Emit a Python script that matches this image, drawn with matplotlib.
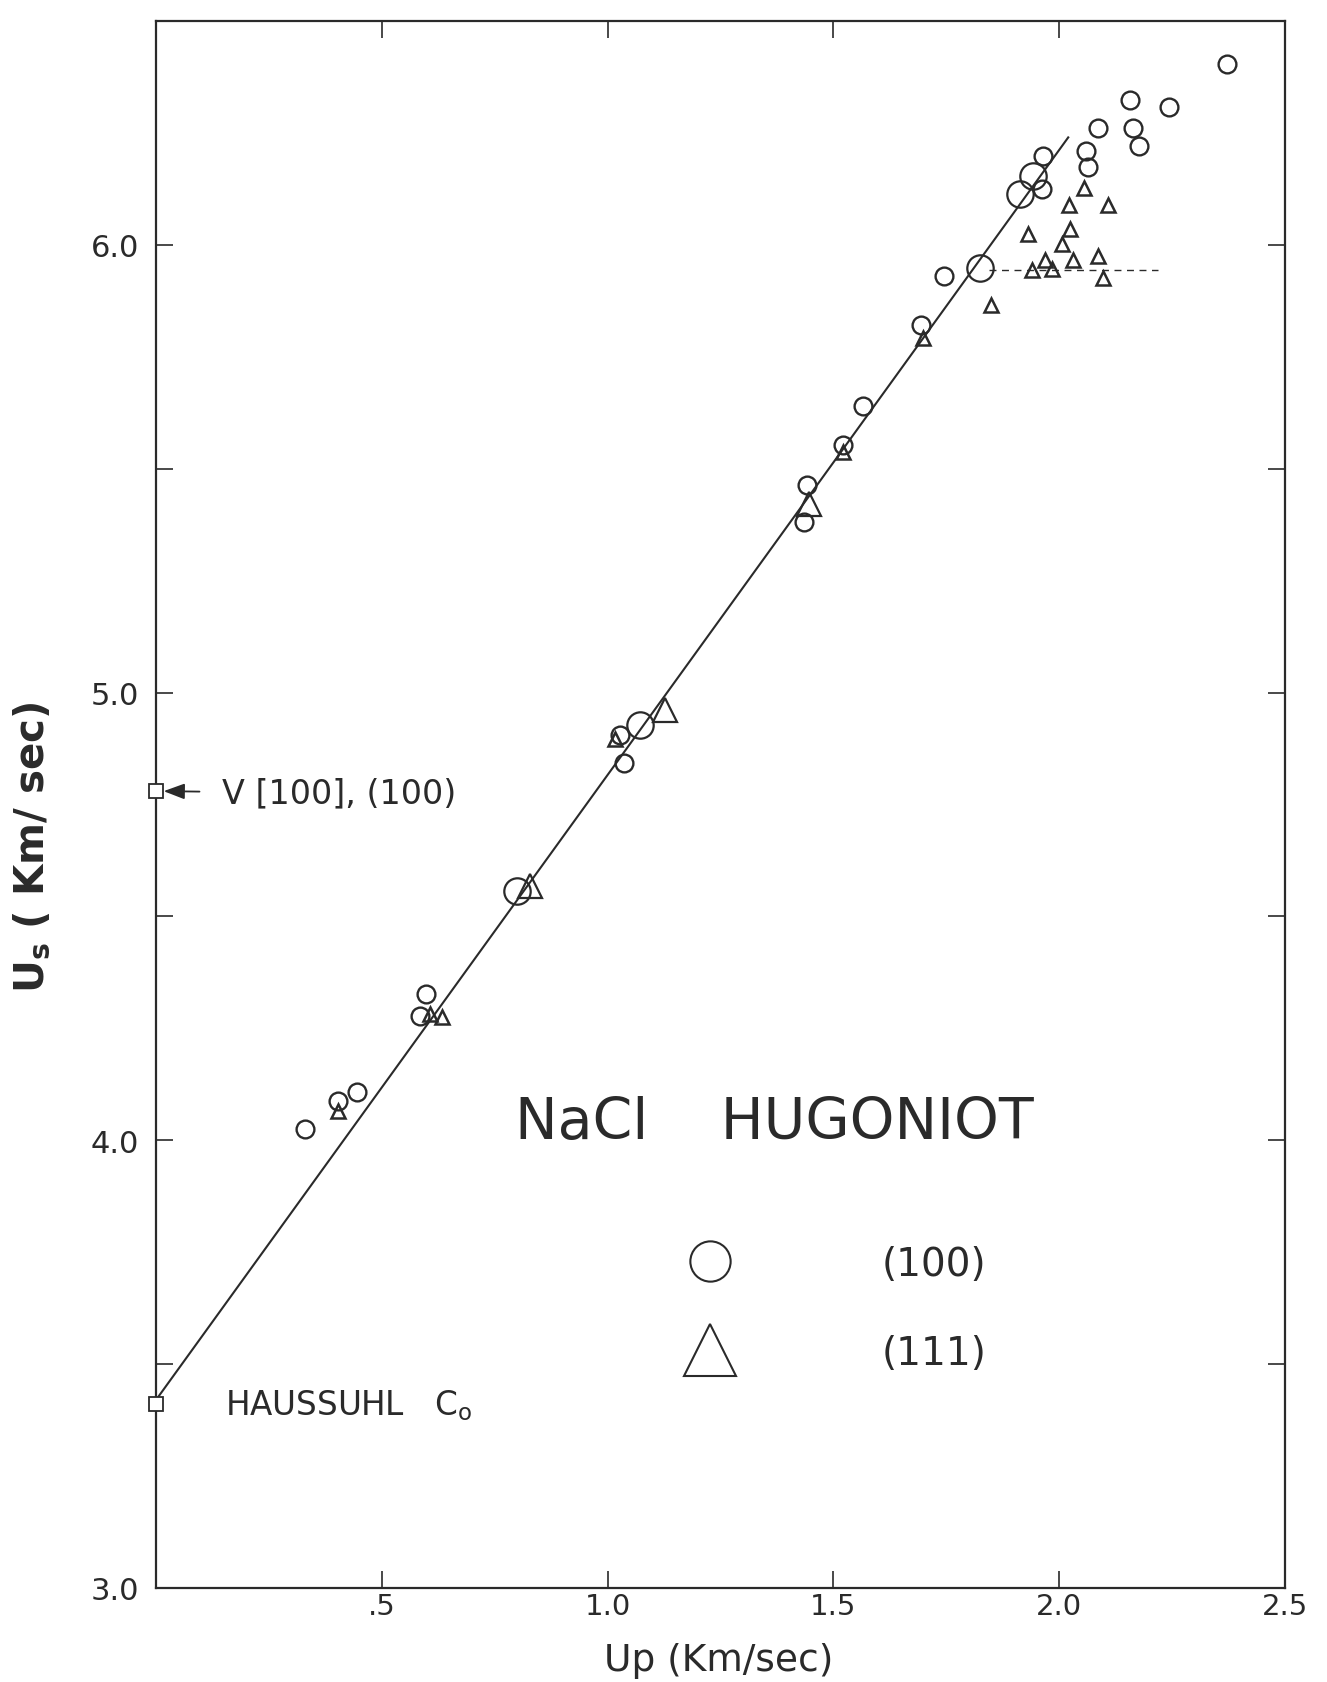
import numpy as np
import matplotlib.pyplot as plt
from matplotlib.lines import Line2D

INK = '#2a2a2a'
FONT = 'DejaVu Sans'

# (100) shots, small symbols
CIRC_UP = [0.331, 0.404, 0.444, 0.584, 0.598, 1.028, 1.036, 1.436, 1.441, 1.521,
           1.566, 1.694, 1.745, 1.963, 1.965, 2.059, 2.064, 2.085, 2.157, 2.163,
           2.177, 2.244, 2.372]
CIRC_US = [4.026, 4.088, 4.107, 4.277, 4.326, 4.905, 4.842, 5.382, 5.464, 5.554,
           5.641, 5.820, 5.930, 6.124, 6.198, 6.209, 6.174, 6.261, 6.323, 6.260,
           6.220, 6.308, 6.405]
# (100) shots, large symbols
BIG_CIRC_UP = [0.799, 1.072, 1.825, 1.913, 1.943]
BIG_CIRC_US = [4.557, 4.927, 5.948, 6.114, 6.153]

# (111) shots, small symbols
TRI_UP = [0.404, 0.607, 0.634, 1.017, 1.521, 1.699, 1.850, 1.931, 1.940, 1.969,
          1.985, 2.006, 2.021, 2.023, 2.030, 2.055, 2.087, 2.096, 2.108]
TRI_US = [4.065, 4.281, 4.276, 4.897, 5.537, 5.792, 5.865, 6.024, 5.943, 5.967,
          5.945, 6.002, 6.090, 6.035, 5.967, 6.126, 5.976, 5.926, 6.088]
# (111) shots, large symbols
BIG_TRI_UP = [0.828, 1.126, 1.447]
BIG_TRI_US = [4.567, 4.962, 5.421]

# linear Us-Up fit, starting at the Haussuhl sound speed
FIT_UP = [0.0, 2.02]
FIT_US = [3.42, 6.24]
# dashed level of the (111) points
DASH_UP = [1.845, 2.218]
DASH_US = [5.943, 5.943]

C0_HAUSSUHL = 3.41
V_100 = 4.78

X_TICKS = [0.0, 0.5, 1.0, 1.5, 2.0, 2.5]
X_LABELS = ['', '.5', '1.0', '1.5', '2.0', '2.5']
Y_TICKS = [3.0, 3.5, 4.0, 4.5, 5.0, 5.5, 6.0, 6.5]
Y_LABELS = ['3.0', '', '4.0', '', '5.0', '', '6.0', '']


def main():
    fig = plt.figure(figsize=(13.27, 16.83), dpi=100)
    ax = fig.add_axes([156 / 1327, 1 - 1589 / 1683, 1129 / 1327, 1567 / 1683])
    ax.set_xlim(0, 2.5)
    ax.set_ylim(3.0, 6.5)

    ax.plot(FIT_UP, FIT_US, color=INK, lw=1.5, zorder=2)
    ax.plot(DASH_UP, DASH_US, color=INK, lw=1.0, ls=(0, (5, 4)), zorder=2)

    ax.plot(CIRC_UP, CIRC_US, ls='none', marker='o', ms=12.8, mfc='none',
            mec=INK, mew=1.7, zorder=3)
    ax.plot(BIG_CIRC_UP, BIG_CIRC_US, ls='none', marker='o', ms=19, mfc='none',
            mec=INK, mew=1.6, zorder=3)
    ax.plot(TRI_UP, TRI_US, ls='none', marker='^', ms=9.5, mfc='none',
            mec=INK, mew=1.8, zorder=3)
    ax.plot(BIG_TRI_UP, BIG_TRI_US, ls='none', marker='^', ms=17, mfc='none',
            mec=INK, mew=1.6, zorder=3)

    # sound speeds on the Us axis
    ax.plot([0, 0], [C0_HAUSSUHL, V_100], ls='none', marker='s', ms=10.5,
            mfc='white', mec=INK, mew=1.3, clip_on=False, zorder=4)

    ax.annotate('V [100], (100)', xy=(0, V_100), xytext=(0.1455, V_100 - 0.005),
                ha='left', va='center', fontsize=24, color=INK, family=FONT,
                arrowprops=dict(arrowstyle='-|>,head_length=0.4,head_width=0.15',
                                color=INK, lw=1.3, shrinkA=14, shrinkB=5.5,
                                mutation_scale=32))
    ax.text(0.152, C0_HAUSSUHL, r'HAUSSUHL   C$_\mathregular{o}$', ha='left',
            va='center', fontsize=23.5, color=INK, family=FONT)
    ax.text(1.37, 4.04, 'NaCl    HUGONIOT', ha='center', va='center',
            fontsize=41, color=INK, family=FONT)

    handles = [Line2D([], [], ls='none', marker='o', ms=29, mfc='none', mec=INK, mew=1.5),
               Line2D([], [], ls='none', marker='^', ms=38, mfc='none', mec=INK, mew=1.5)]
    leg = ax.legend(handles, ['(100)', '(111)'], loc='upper left',
                    bbox_to_anchor=(0.4566, 0.2189), frameon=False, borderpad=0,
                    borderaxespad=0, handlelength=2, handletextpad=3.4,
                    labelspacing=1.31, prop={'family': FONT, 'size': 28})
    for t in leg.get_texts():
        t.set_color(INK)

    ax.set_xticks(X_TICKS, X_LABELS)
    ax.set_yticks(Y_TICKS, Y_LABELS)
    ax.tick_params(direction='in', length=12, width=1.2, color=INK,
                   top=True, right=True, labelcolor=INK)
    ax.tick_params(axis='x', pad=3, labelsize=21)
    ax.tick_params(axis='y', pad=12, labelsize=22)
    for lab in ax.get_xticklabels() + ax.get_yticklabels():
        lab.set_family(FONT)
    for sp in ax.spines.values():
        sp.set_linewidth(1.6)
        sp.set_color(INK)

    ax.set_xlabel('Up (Km/sec)', fontsize=27, color=INK, family=FONT, va='center')
    ax.xaxis.set_label_coords(0.4987, -0.046)
    ax.set_ylabel(r'U$_\mathbf{s}$ ( Km/ sec)', fontsize=29, fontweight='bold',
                  color=INK, family=FONT, va='center')
    ax.yaxis.set_label_coords(-0.110, 0.473)

    fig.savefig('out.png', dpi=100, facecolor='white')


if __name__ == '__main__':
    main()
